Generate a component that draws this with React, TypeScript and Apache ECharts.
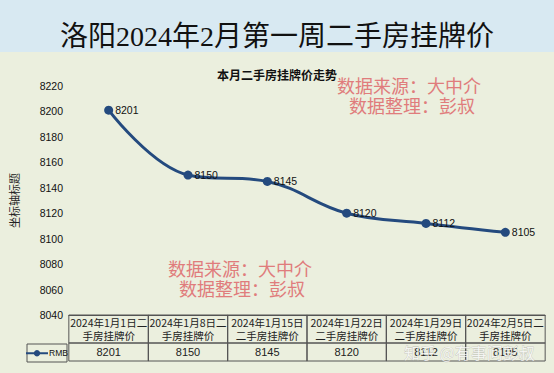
import React, { useEffect, useRef } from "react";
import * as echarts from "echarts";

const mainTitle = "洛阳2024年2月第一周二手房挂牌价";
const chartTitle = "本月二手房挂牌价走势";
const yAxisName = "坐标轴标题";
const seriesName = "RMB";
const categories = [
  "2024年1月1日二手房挂牌价",
  "2024年1月8日二手房挂牌价",
  "2024年1月15日二手房挂牌价",
  "2024年1月22日二手房挂牌价",
  "2024年1月29日二手房挂牌价",
  "2024年2月5日二手房挂牌价",
];
const prices = [8201, 8150, 8145, 8120, 8112, 8105];
const yMin = 8040;
const yMax = 8220;
const yInterval = 20;
const noteLines = ["数据来源：大中介", "数据整理：彭叔"];
const watermark = "知乎 @有事问彭叔";

const SANS = '"Liberation Sans", "Noto Sans CJK SC", sans-serif';
const CJK = '"Noto Sans CJK SC", sans-serif';
const BORDER = "#555";
const NOTE = "#e07c7c";

export default function App() {
  const ref = useRef<HTMLDivElement>(null);
  useEffect(() => {
    document.body.style.margin = "0";
    if (!ref.current) return;
    const chart = echarts.init(ref.current, undefined, { renderer: "svg" });
    const band = (554 - 67 - 9) / categories.length;
    chart.setOption({
      animation: false,
      backgroundColor: "#ebefde",
      textStyle: { fontFamily: SANS },
      title: [
        {
          text: mainTitle,
          left: "center",
          top: 17,
          textStyle: {
            fontSize: 28,
            fontWeight: "normal",
            color: "#111",
            fontFamily: '"Liberation Serif", "Noto Sans CJK SC", serif',
          },
        },
        {
          text: chartTitle,
          left: "center",
          top: 63,
          textStyle: { fontSize: 12, fontWeight: "bold", color: "#111", fontFamily: CJK },
        },
      ],
      legend: {
        data: [seriesName],
        left: 25,
        top: 349,
        padding: 0,
        itemWidth: 22,
        itemHeight: 8,
        textStyle: { fontSize: 8.5, color: "#111", padding: [0, 0, 0, -4] },
      },
      grid: { left: 67, right: 9, top: 86, bottom: 58 },
      xAxis: [
        {
          type: "category",
          data: categories,
          position: "bottom",
          axisLine: { show: true, lineStyle: { color: BORDER, width: 1 } },
          axisTick: { show: false },
          splitLine: { show: false },
          axisLabel: {
            interval: 0,
            margin: 0,
            formatter: (v: string) => v.slice(0, 10) + "\n" + v.slice(10),
            width: band,
            height: 27,
            lineHeight: 13,
            padding: [1, 0, 0, 0],
            fontSize: 10.5,
            color: "#222",
            fontFamily: CJK,
            borderColor: BORDER,
            borderWidth: 1,
            align: "center",
          },
        },
        {
          type: "category",
          data: categories,
          position: "bottom",
          offset: 28,
          axisLine: { show: false },
          axisTick: { show: false },
          splitLine: { show: false },
          axisLabel: {
            interval: 0,
            margin: 0,
            formatter: (_v: string, i: number) => String(prices[i]),
            width: band,
            height: 18,
            lineHeight: 18,
            fontSize: 11,
            color: "#222",
            borderColor: BORDER,
            borderWidth: 1,
            align: "center",
          },
        },
      ],
      yAxis: {
        type: "value",
        min: yMin,
        max: yMax,
        interval: yInterval,
        name: yAxisName,
        nameLocation: "middle",
        nameRotate: 90,
        nameGap: 50,
        nameTextStyle: { fontSize: 11, color: "#222", fontFamily: CJK },
        axisLine: { show: false },
        axisTick: { show: false },
        splitLine: { show: false },
        axisLabel: {
          fontSize: 10.5,
          color: "#111",
          margin: 6,
          formatter: (v: number) => String(v),
        },
      },
      series: [
        {
          name: seriesName,
          type: "line",
          data: prices,
          smooth: 0.4,
          symbol: "circle",
          symbolSize: 9,
          lineStyle: { color: "#244a7e", width: 3 },
          itemStyle: { color: "#244a7e" },
          label: {
            show: true,
            position: "right",
            distance: 2,
            fontSize: 10.5,
            color: "#111",
          },
        },
      ],
      graphic: [
        {
          type: "rect",
          z: -1,
          shape: { x: 0, y: 0, width: 554, height: 52 },
          style: { fill: "#d8e9f2" },
        },
        {
          type: "rect",
          shape: { x: 27, y: 344, width: 40, height: 18 },
          style: { fill: "none", stroke: BORDER, lineWidth: 1 },
        },
        {
          type: "text",
          x: 337,
          y: 85,
          style: { text: noteLines[0], fill: NOTE, fontSize: 18, fontFamily: CJK, verticalAlign: "middle" },
        },
        {
          type: "text",
          x: 349,
          y: 105,
          style: { text: noteLines[1], fill: NOTE, fontSize: 18, fontFamily: CJK, verticalAlign: "middle" },
        },
        {
          type: "text",
          x: 168,
          y: 268,
          style: { text: noteLines[0], fill: NOTE, fontSize: 18, fontFamily: CJK, verticalAlign: "middle" },
        },
        {
          type: "text",
          x: 179,
          y: 288,
          style: { text: noteLines[1], fill: NOTE, fontSize: 18, fontFamily: CJK, verticalAlign: "middle" },
        },
        {
          type: "text",
          x: 404,
          y: 352,
          z: 100,
          style: {
            text: watermark,
            fill: "rgba(255,255,255,0.75)",
            stroke: "rgba(120,120,120,0.45)",
            lineWidth: 0.6,
            fontSize: 16,
            fontFamily: CJK,
            verticalAlign: "middle",
          },
        },
      ],
    });
    return () => chart.dispose();
  }, []);
  return <div ref={ref} style={{ width: 554, height: 373 }} />;
}
